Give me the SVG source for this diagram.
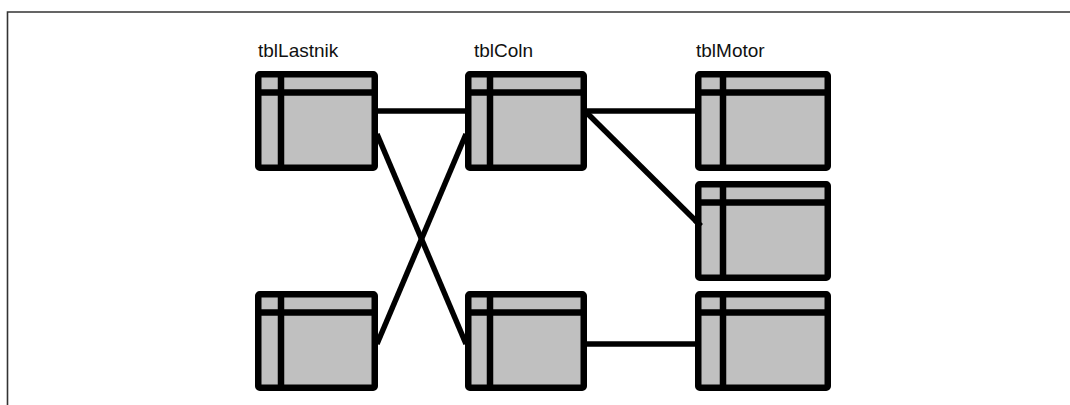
<svg xmlns="http://www.w3.org/2000/svg" width="1070" height="405" viewBox="0 0 1070 405">
  <style>
    .frame { fill: none; stroke: #333; stroke-width: 1.6; }
    .title { font-family: "Liberation Sans", Arial, sans-serif; font-size: 19px; fill: #111; }
    .tbl { fill: #c0c0c0; stroke: #000; stroke-width: 6.5; stroke-linejoin: round; }
    .rule { stroke: #000; stroke-width: 6.5; }
    .link { stroke: #000; stroke-width: 5.5; fill: none; stroke-linecap: butt; }
  </style>

  <!-- page frame -->
  <path class="frame" d="M7.5,405 V12 H1070"/>

  <!-- table column headings -->
  <text class="title" x="258" y="57">tblLastnik</text>
  <text class="title" x="474" y="57">tblColn</text>
  <text class="title" x="696" y="57">tblMotor</text>

  <!-- relationships -->
  <g id="connectors">
    <line class="link" x1="377" y1="111" x2="466" y2="111"/>
    <line class="link" x1="377" y1="134" x2="466" y2="344"/>
    <line class="link" x1="377" y1="344" x2="466" y2="134"/>
    <line class="link" x1="586" y1="111" x2="696" y2="111"/>
    <line class="link" x1="587" y1="113" x2="701" y2="226"/>
    <line class="link" x1="586" y1="344" x2="696" y2="344"/>
  </g>

  <!-- table icons: outer box, header row rule, key column rule -->
  <g id="lastnik-1" transform="translate(255,71)">
    <rect class="tbl" x="3.25" y="3.25" width="116.5" height="93.5" rx="1.5"/>
    <line class="rule" x1="3" y1="21.5" x2="120" y2="21.5"/>
    <line class="rule" x1="26" y1="3" x2="26" y2="97"/>
  </g>
  <g id="lastnik-2" transform="translate(255,291)">
    <rect class="tbl" x="3.25" y="3.25" width="116.5" height="93.5" rx="1.5"/>
    <line class="rule" x1="3" y1="21.5" x2="120" y2="21.5"/>
    <line class="rule" x1="26" y1="3" x2="26" y2="97"/>
  </g>
  <g id="coln-1" transform="translate(465,71)">
    <rect class="tbl" x="3.25" y="3.25" width="115.5" height="93.5" rx="1.5"/>
    <line class="rule" x1="3" y1="21.5" x2="119" y2="21.5"/>
    <line class="rule" x1="25" y1="3" x2="25" y2="97"/>
  </g>
  <g id="coln-2" transform="translate(465,291)">
    <rect class="tbl" x="3.25" y="3.25" width="115.5" height="93.5" rx="1.5"/>
    <line class="rule" x1="3" y1="21.5" x2="119" y2="21.5"/>
    <line class="rule" x1="25" y1="3" x2="25" y2="97"/>
  </g>
  <g id="motor-1" transform="translate(695,71)">
    <rect class="tbl" x="3.25" y="3.25" width="129.5" height="93.5" rx="1.5"/>
    <line class="rule" x1="3" y1="21.5" x2="133" y2="21.5"/>
    <line class="rule" x1="28" y1="3" x2="28" y2="97"/>
  </g>
  <g id="motor-2" transform="translate(695,181)">
    <rect class="tbl" x="3.25" y="3.25" width="129.5" height="93.5" rx="1.5"/>
    <line class="rule" x1="3" y1="21.5" x2="133" y2="21.5"/>
    <line class="rule" x1="28" y1="3" x2="28" y2="97"/>
  </g>
  <g id="motor-3" transform="translate(695,291)">
    <rect class="tbl" x="3.25" y="3.25" width="129.5" height="93.5" rx="1.5"/>
    <line class="rule" x1="3" y1="21.5" x2="133" y2="21.5"/>
    <line class="rule" x1="28" y1="3" x2="28" y2="97"/>
  </g>

  <!-- short stub of the Coln→Motor link visible inside the middle motor box -->
  <line class="link" x1="695" y1="220" x2="701" y2="226"/>
</svg>
